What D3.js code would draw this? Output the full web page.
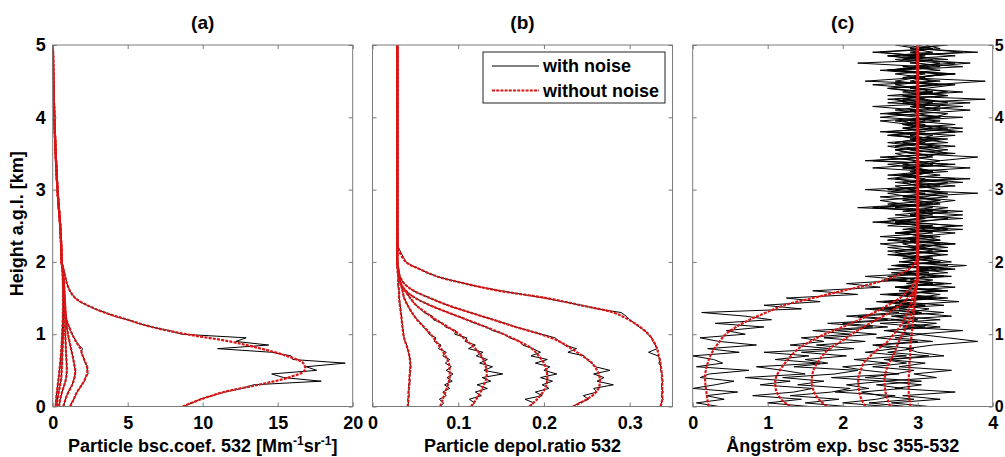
<!DOCTYPE html>
<html>
<head>
<meta charset="utf-8">
<script src="https://cdnjs.cloudflare.com/ajax/libs/d3/7.8.5/d3.min.js"></script>
<style>
  body { margin: 0; background: #fff; }
  text { font-family: "Liberation Sans", Arial, sans-serif; font-weight: bold; fill: #000; }
</style>
</head>
<body>
<div id="chart"></div>
<script>
// heights (km) of the smooth "without noise" profiles
var profileHeights = [0, 0.1, 0.2, 0.3, 0.4, 0.5, 0.6, 0.7, 0.8, 0.9, 1.0, 1.1, 1.2, 1.3, 1.4, 1.5, 1.6, 1.7, 1.8, 1.9, 2.0, 2.2, 2.5, 3, 3.5, 4, 4.5, 5];
// noisy profiles are sampled every 0.05 km starting at the ground
var noiseStep = 0.05;

// (a) particle backscatter coefficient 532
var bsc1 = [8.66, 9.9, 11.4, 13.7, 15.7, 16.8, 16.7, 15.6, 13.9, 11.8, 8.9, 6.6, 5.0, 3.45, 2.3, 1.5, 1.15, 0.95, 0.83, 0.72, 0.6, 0.57, 0.5, 0.32, 0.2, 0.11, 0.05, 0.01];
var bsc2 = [1.16, 1.4, 1.62, 1.95, 2.2, 2.32, 2.2, 2.0, 1.85, 1.55, 1.3, 1.1, 0.92, 0.85, 0.82, 0.8, 0.78, 0.75, 0.72, 0.68, 0.6, 0.57, 0.5, 0.32, 0.2, 0.11, 0.05, 0.01];
var bsc3 = [0.71, 0.85, 1.05, 1.3, 1.45, 1.5, 1.42, 1.33, 1.22, 1.12, 1.02, 0.95, 0.9, 0.86, 0.83, 0.8, 0.77, 0.74, 0.71, 0.67, 0.6, 0.57, 0.5, 0.32, 0.2, 0.11, 0.05, 0.01];
var bsc4 = [0.42, 0.5, 0.62, 0.78, 0.9, 0.94, 0.93, 0.9, 0.88, 0.86, 0.84, 0.83, 0.82, 0.8, 0.79, 0.77, 0.75, 0.73, 0.7, 0.66, 0.6, 0.57, 0.5, 0.32, 0.2, 0.11, 0.05, 0.01];
var bsc5 = [0.27, 0.32, 0.4, 0.5, 0.57, 0.6, 0.62, 0.64, 0.66, 0.68, 0.7, 0.71, 0.72, 0.72, 0.72, 0.72, 0.71, 0.7, 0.68, 0.65, 0.6, 0.57, 0.5, 0.32, 0.2, 0.11, 0.05, 0.01];
var bsc6 = [0.2, 0.23, 0.28, 0.34, 0.4, 0.45, 0.5, 0.54, 0.58, 0.61, 0.63, 0.65, 0.67, 0.68, 0.69, 0.69, 0.69, 0.68, 0.67, 0.64, 0.6, 0.57, 0.5, 0.32, 0.2, 0.11, 0.05, 0.01];

var bscNoisy1 = [8.7, 9.3, 9.8, 10.6, 11.5, 12.6, 13.4, 17.9, 15.4, 14.6, 17.6, 16.9, 19.5, 16.0, 15.9, 14.6, 11.0, 14.4, 12.2, 12.9,
  8.6, 7.8, 6.6, 5.7, 5.0, 4.1, 3.5, 2.8, 2.3, 1.8, 1.5, 1.3, 1.15, 1.05, 0.95, 0.9, 0.83, 0.78, 0.72, 0.66, 0.6];
var bscNoisy2 = [1.17, 1.26, 1.4, 1.52, 1.62, 1.8, 1.93, 2.12, 2.17, 2.36, 2.29, 2.34, 2.17, 2.11, 2.01, 1.9, 1.98, 1.74, 1.57, 1.43,
  1.3, 1.2, 1.1, 1.0, 0.93, 0.88, 0.86, 0.84, 0.83, 0.81, 0.8, 0.79, 0.78, 0.76, 0.75, 0.74, 0.72, 0.7, 0.68, 0.64, 0.6];
var bscNoisy3 = [0.72, 0.78, 0.86, 0.94, 1.05, 1.17, 1.3, 1.37, 1.46, 1.49, 1.52, 1.45, 1.43, 1.36, 1.33, 1.27, 1.22, 1.16, 1.12, 1.06,
  1.02, 0.98, 0.95, 0.92, 0.9, 0.88, 0.86, 0.84, 0.83, 0.81, 0.8, 0.78, 0.77, 0.75, 0.74, 0.72, 0.71, 0.69, 0.67, 0.64, 0.6];
var bscNoisy4 = [0.42, 0.47, 0.5, 0.57, 0.62, 0.71, 0.78, 0.85, 0.9, 0.92, 0.95, 0.93, 0.93, 0.91, 0.9, 0.89, 0.88, 0.87, 0.86, 0.85,
  0.84, 0.83, 0.83, 0.82, 0.82, 0.81, 0.8, 0.8, 0.79, 0.78, 0.77, 0.76, 0.75, 0.74, 0.73, 0.72, 0.7, 0.68, 0.66, 0.63, 0.6];
var bscNoisy5 = [0.27, 0.29, 0.32, 0.36, 0.4, 0.45, 0.5, 0.54, 0.57, 0.59, 0.6, 0.61, 0.62, 0.63, 0.64, 0.65, 0.66, 0.67, 0.68, 0.69,
  0.7, 0.7, 0.71, 0.71, 0.72, 0.72, 0.72, 0.72, 0.72, 0.72, 0.72, 0.71, 0.71, 0.7, 0.7, 0.69, 0.68, 0.66, 0.65, 0.63, 0.6];
var bscNoisy6 = [0.2, 0.21, 0.23, 0.25, 0.28, 0.31, 0.34, 0.37, 0.4, 0.43, 0.45, 0.48, 0.5, 0.52, 0.54, 0.56, 0.58, 0.6, 0.61, 0.62,
  0.63, 0.64, 0.65, 0.66, 0.67, 0.68, 0.68, 0.69, 0.69, 0.69, 0.69, 0.69, 0.69, 0.69, 0.68, 0.68, 0.67, 0.66, 0.64, 0.62, 0.6];

// (b) particle depolarization ratio 532
var dep1 = [0.336, 0.338, 0.338, 0.338, 0.338, 0.337, 0.336, 0.334, 0.332, 0.328, 0.322, 0.312, 0.299, 0.281, 0.243, 0.203, 0.148, 0.108, 0.075, 0.055, 0.039, 0.030, 0.029, 0.029, 0.029, 0.029, 0.029, 0.029];
var dep2 = [0.234, 0.25, 0.261, 0.265, 0.265, 0.262, 0.256, 0.245, 0.232, 0.218, 0.196, 0.167, 0.141, 0.114, 0.088, 0.067, 0.048, 0.037, 0.032, 0.030, 0.029, 0.029, 0.029, 0.029, 0.029, 0.029, 0.029, 0.029];
var dep3 = [0.183, 0.192, 0.199, 0.203, 0.204, 0.203, 0.2, 0.194, 0.186, 0.171, 0.153, 0.132, 0.11, 0.088, 0.067, 0.05, 0.039, 0.033, 0.031, 0.030, 0.029, 0.029, 0.029, 0.029, 0.029, 0.029, 0.029, 0.029];
var dep4 = [0.115, 0.121, 0.126, 0.13, 0.133, 0.133, 0.131, 0.127, 0.12, 0.111, 0.101, 0.088, 0.074, 0.062, 0.051, 0.044, 0.038, 0.033, 0.031, 0.030, 0.029, 0.029, 0.029, 0.029, 0.029, 0.029, 0.029, 0.029];
var dep5 = [0.079, 0.082, 0.085, 0.088, 0.09, 0.09, 0.089, 0.085, 0.08, 0.074, 0.068, 0.06, 0.052, 0.046, 0.041, 0.037, 0.035, 0.033, 0.031, 0.030, 0.029, 0.029, 0.029, 0.029, 0.029, 0.029, 0.029, 0.029];
var dep6 = [0.041, 0.042, 0.042, 0.043, 0.043, 0.044, 0.044, 0.043, 0.041, 0.038, 0.036, 0.035, 0.034, 0.033, 0.032, 0.031, 0.031, 0.030, 0.030, 0.029, 0.029, 0.029, 0.029, 0.029, 0.029, 0.029, 0.029, 0.029];

var depNoisy1 = [0.336, 0.337, 0.339, 0.337, 0.339, 0.338, 0.337, 0.339, 0.337, 0.338, 0.336, 0.337, 0.334, 0.336, 0.333, 0.322, 0.332, 0.33, 0.327, 0.326,
  0.321, 0.318, 0.311, 0.306, 0.3, 0.296, 0.29, 0.262, 0.244, 0.222, 0.2, 0.175, 0.15, 0.127, 0.108, 0.09, 0.075, 0.064, 0.055, 0.046, 0.039];
var depNoisy2 = [0.234, 0.241, 0.252, 0.246, 0.262, 0.258, 0.281, 0.262, 0.27, 0.258, 0.277, 0.26, 0.256, 0.25, 0.247, 0.228, 0.238, 0.224, 0.218, 0.213,
  0.197, 0.182, 0.167, 0.155, 0.141, 0.127, 0.114, 0.1, 0.088, 0.077, 0.067, 0.057, 0.048, 0.042, 0.037, 0.034, 0.032, 0.031, 0.030, 0.029, 0.029];
var depNoisy3 = [0.183, 0.188, 0.178, 0.198, 0.19, 0.206, 0.198, 0.21, 0.196, 0.215, 0.2, 0.207, 0.19, 0.204, 0.185, 0.196, 0.187, 0.175, 0.172, 0.16,
  0.154, 0.14, 0.133, 0.12, 0.11, 0.099, 0.088, 0.077, 0.067, 0.058, 0.05, 0.044, 0.039, 0.035, 0.033, 0.032, 0.031, 0.030, 0.030, 0.029, 0.029];
var depNoisy4 = [0.115, 0.119, 0.113, 0.127, 0.12, 0.134, 0.122, 0.138, 0.128, 0.152, 0.13, 0.14, 0.125, 0.134, 0.121, 0.129, 0.112, 0.12, 0.108, 0.11,
  0.096, 0.097, 0.085, 0.082, 0.071, 0.07, 0.06, 0.056, 0.051, 0.047, 0.044, 0.041, 0.038, 0.035, 0.033, 0.032, 0.031, 0.030, 0.030, 0.029, 0.029];
var depNoisy5 = [0.079, 0.083, 0.078, 0.086, 0.082, 0.09, 0.084, 0.093, 0.087, 0.094, 0.086, 0.092, 0.085, 0.09, 0.082, 0.086, 0.077, 0.08, 0.072, 0.074,
  0.066, 0.064, 0.059, 0.057, 0.052, 0.049, 0.046, 0.043, 0.041, 0.039, 0.037, 0.036, 0.035, 0.034, 0.033, 0.032, 0.031, 0.031, 0.030, 0.029, 0.029];
var depNoisy6 = [0.041, 0.042, 0.041, 0.043, 0.042, 0.043, 0.042, 0.044, 0.043, 0.044, 0.043, 0.045, 0.044, 0.044, 0.043, 0.042, 0.041, 0.04, 0.038, 0.037,
  0.036, 0.036, 0.035, 0.035, 0.034, 0.034, 0.033, 0.033, 0.032, 0.032, 0.031, 0.031, 0.031, 0.030, 0.030, 0.030, 0.030, 0.030, 0.029, 0.029, 0.029];

// (c) Angstrom exponent bsc 355-532
var ang1 = [0.21, 0.195, 0.183, 0.17, 0.165, 0.175, 0.2, 0.235, 0.29, 0.36, 0.44, 0.58, 0.76, 0.98, 1.22, 1.6, 2.0, 2.4, 2.7, 2.88, 2.97, 3.0, 3.0, 3.0, 3.0, 3.0, 3.0, 3.0];
var ang2 = [1.3, 1.18, 1.12, 1.1, 1.11, 1.16, 1.23, 1.31, 1.41, 1.57, 1.76, 2.0, 2.22, 2.42, 2.6, 2.76, 2.87, 2.95, 2.99, 3.0, 3.0, 3.0, 3.0, 3.0, 3.0, 3.0, 3.0, 3.0];
var ang3 = [1.79, 1.68, 1.62, 1.59, 1.59, 1.61, 1.66, 1.73, 1.82, 1.98, 2.12, 2.28, 2.45, 2.62, 2.76, 2.87, 2.95, 2.99, 3.0, 3.0, 3.0, 3.0, 3.0, 3.0, 3.0, 3.0, 3.0, 3.0];
var ang4 = [2.3, 2.25, 2.22, 2.21, 2.21, 2.24, 2.28, 2.37, 2.48, 2.6, 2.68, 2.76, 2.82, 2.86, 2.9, 2.93, 2.96, 2.99, 3.0, 3.0, 3.0, 3.0, 3.0, 3.0, 3.0, 3.0, 3.0, 3.0];
var ang5 = [2.63, 2.6, 2.57, 2.56, 2.56, 2.58, 2.62, 2.67, 2.71, 2.75, 2.8, 2.85, 2.89, 2.92, 2.94, 2.96, 2.97, 2.99, 3.0, 3.0, 3.0, 3.0, 3.0, 3.0, 3.0, 3.0, 3.0, 3.0];
var ang6 = [2.9, 2.89, 2.88, 2.88, 2.88, 2.89, 2.89, 2.9, 2.9, 2.91, 2.92, 2.93, 2.94, 2.95, 2.96, 2.97, 2.98, 2.99, 3.0, 3.0, 3.0, 3.0, 3.0, 3.0, 3.0, 3.0, 3.0, 3.0];

var angNoisy1 = [0.35, 0.05, 0.42, 0.18, 0.6, 0.0, 0.3, 0.55, 0.1, 0.22, 0.75, 0.05, 0.4, 0.28, 0.0, 0.62, 0.2, 0.85, 0.35, 0.1,
  0.7, 0.45, 0.95, 0.3, 1.05, 0.7, 0.12, 1.45, 0.95, 1.7, 1.25, 2.2, 1.6, 2.5, 2.05, 2.85, 2.3, 3.15, 2.6, 3.4, 2.75,
  3.2, 2.7, 3.4, 2.9, 2.5, 3.3, 3.1, 2.8, 3.6, 2.6, 3.0, 3.4, 2.7, 3.2, 2.4, 3.1, 3.5, 2.9, 2.6, 3.3,
  3.0, 2.8, 3.7, 2.6, 3.1, 2.9, 3.4, 2.3, 3.2, 3.0, 2.7, 3.5, 2.8, 3.3, 2.6, 3.0, 3.6, 2.9, 2.5, 3.2,
  3.4, 2.7, 3.1, 2.8, 3.9, 2.6, 3.2, 3.0, 2.4, 3.3, 2.9, 3.5, 2.7, 3.1, 2.2, 3.4, 2.8, 3.6, 3.0, 3.3];
var angNoisy2 = [1.55, 1.0, 1.45, 0.8, 1.35, 1.6, 0.9, 1.3, 0.7, 1.5, 1.2, 0.85, 1.7, 1.1, 1.55, 0.95, 1.85, 1.3, 1.75, 1.45,
  2.1, 1.6, 2.4, 1.8, 2.6, 2.05, 2.75, 2.3, 2.95, 2.45, 3.2, 2.5, 3.3, 2.7, 3.45, 2.6, 3.25, 2.8, 3.5, 2.7, 3.3,
  2.8, 3.3, 3.0, 2.6, 3.5, 2.9, 3.2, 2.7, 3.4, 3.1, 2.5, 3.0, 3.6, 2.8, 3.2, 2.6, 3.3, 2.9, 3.8, 2.7,
  3.1, 3.4, 2.6, 3.0, 3.2, 2.8, 3.5, 2.4, 3.1, 3.3, 2.9, 2.6, 3.4, 3.0, 2.7, 3.6, 3.1, 2.8, 3.3, 2.5,
  3.0, 3.7, 2.9, 3.2, 2.6, 3.4, 2.8, 3.1, 3.5, 2.3, 3.0, 3.3, 2.7, 3.6, 2.9, 3.2, 2.6, 3.8, 3.0, 2.7];
var angNoisy3 = [2.05, 1.5, 1.95, 1.3, 1.85, 2.1, 1.4, 1.75, 1.2, 1.9, 2.2, 1.35, 1.8, 1.5, 2.05, 1.45, 2.15, 1.65, 2.3, 1.75,
  2.45, 1.9, 2.6, 2.0, 2.75, 2.2, 3.0, 2.4, 3.1, 2.55, 3.25, 2.65, 3.4, 2.7, 3.2, 2.55, 3.35, 2.8, 3.15, 2.65, 3.45,
  3.1, 2.6, 3.4, 3.0, 2.8, 3.3, 2.5, 3.2, 2.9, 3.6, 2.7, 3.1, 2.9, 3.4, 2.2, 3.0, 3.3, 2.8, 3.1, 2.6,
  3.5, 3.0, 2.7, 3.3, 2.9, 3.7, 2.8, 3.0, 2.5, 3.4, 3.2, 2.7, 3.1, 2.9, 3.5, 2.6, 3.2, 3.0, 2.8, 3.6,
  2.5, 3.1, 3.3, 2.9, 2.7, 3.4, 3.0, 2.6, 3.2, 3.9, 2.8, 3.1, 2.5, 3.3, 3.0, 2.7, 3.5, 2.9, 3.2, 2.8];
var angNoisy4 = [2.6, 2.0, 2.45, 2.7, 1.9, 2.35, 2.05, 2.55, 1.85, 2.75, 2.3, 2.0, 2.6, 2.15, 2.85, 2.3, 2.7, 2.4, 3.0, 2.45,
  2.9, 2.6, 3.1, 2.5, 3.3, 2.7, 3.05, 2.55, 3.35, 2.75, 3.2, 2.6, 3.4, 2.8, 3.15, 2.65, 3.45, 2.85, 3.25, 2.7, 3.3,
  2.9, 3.4, 2.7, 3.1, 3.3, 2.6, 3.0, 3.5, 2.8, 3.2, 2.4, 3.1, 2.9, 3.6, 2.7, 3.3, 3.0, 2.5, 3.4, 2.9,
  3.1, 2.7, 3.5, 2.8, 3.2, 3.0, 2.6, 3.3, 3.8, 2.9, 2.7, 3.2, 3.0, 3.4, 2.6, 3.1, 2.8, 3.5, 2.9, 3.3,
  2.7, 3.0, 2.4, 3.4, 3.1, 2.8, 3.6, 2.9, 3.2, 2.7, 3.0, 3.4, 2.6, 3.1, 3.7, 2.8, 3.0, 2.5, 3.3, 3.1];
var angNoisy5 = [2.85, 2.35, 2.95, 2.5, 2.25, 2.8, 2.45, 3.05, 2.3, 2.7, 2.95, 2.4, 2.85, 2.55, 3.15, 2.6, 2.95, 2.45, 3.2, 2.7,
  3.05, 2.55, 3.3, 2.8, 3.0, 2.65, 3.35, 2.75, 3.1, 2.6, 3.4, 2.85, 3.2, 2.7, 3.35, 2.9, 3.1, 2.65, 3.45, 2.8, 3.2,
  3.0, 2.7, 3.2, 2.9, 3.5, 2.6, 3.1, 2.8, 3.3, 3.0, 2.7, 3.6, 2.9, 3.1, 2.5, 3.2, 2.8, 3.4, 3.0, 2.3,
  3.3, 2.9, 3.1, 2.7, 3.4, 2.8, 3.2, 3.0, 2.6, 3.5, 2.9, 3.3, 2.7, 3.0, 3.2, 2.5, 3.4, 2.8, 3.1, 3.0,
  2.6, 3.3, 2.9, 3.7, 2.8, 3.0, 3.2, 2.6, 3.4, 2.9, 3.1, 2.7, 3.3, 2.8, 3.5, 3.0, 2.6, 3.2, 2.9, 3.4];
var angNoisy6 = [3.15, 2.65, 3.3, 2.8, 3.5, 2.7, 3.05, 2.55, 3.25, 2.95, 3.45, 2.75, 3.1, 2.6, 3.35, 3.0, 2.85, 3.2, 3.8, 3.4,
  3.0, 3.6, 2.8, 3.25, 2.65, 3.45, 2.9, 3.15, 2.7, 3.55, 2.95, 3.3, 2.75, 3.5, 2.85, 3.2, 2.6, 3.4, 3.0, 3.65, 2.8,
  3.2, 2.9, 2.6, 3.4, 3.0, 2.8, 3.3, 2.7, 3.1, 3.5, 2.9, 2.6, 3.2, 3.0, 3.4, 2.8, 2.5, 3.1, 3.3, 2.9,
  2.7, 3.6, 3.0, 2.8, 3.2, 2.4, 3.1, 3.3, 2.9, 2.7, 3.4, 3.0, 2.6, 3.2, 2.9, 3.5, 2.8, 3.1, 2.7, 3.3,
  3.0, 2.9, 3.6, 2.6, 3.1, 2.8, 3.4, 3.0, 2.7, 3.2, 2.9, 3.5, 2.6, 3.0, 3.3, 2.8, 3.1, 2.4, 3.2, 3.0];

var heightTicks = [0, 1, 2, 3, 4, 5];
var legendLabels = ["with noise", "without noise"];

var panels = [
  { title: "(a)", left: 52.7, domain: [0, 20], ticks: [0, 5, 10, 15, 20],
    smooth: [bsc1, bsc2, bsc3, bsc4, bsc5, bsc6],
    noisy: [bscNoisy1, bscNoisy2, bscNoisy3, bscNoisy4, bscNoisy5, bscNoisy6],
    yLabels: "left", label: "bsc" },
  { title: "(b)", left: 372.5, domain: [0, 0.35], ticks: [0, 0.1, 0.2, 0.3],
    smooth: [dep1, dep2, dep3, dep4, dep5, dep6],
    noisy: [depNoisy1, depNoisy2, depNoisy3, depNoisy4, depNoisy5, depNoisy6],
    yLabels: "none", label: "Particle depol.ratio 532", legend: true },
  { title: "(c)", left: 692.7, domain: [0, 4], ticks: [0, 1, 2, 3, 4],
    smooth: [ang1, ang2, ang3, ang4, ang5, ang6],
    noisy: [angNoisy1, angNoisy2, angNoisy3, angNoisy4, angNoisy5, angNoisy6],
    yLabels: "right", label: "\u00c5ngstr\u00f6m exp. bsc 355-532" }
];

var width = 1005, height = 457;
var plotTop = 45, plotH = 361.5, plotW = 300;
var axisColor = "#7a7a7a";
var redColor = "#dc1414";

var svg = d3.select("#chart").append("svg")
  .attr("width", width)
  .attr("height", height);

var y = d3.scaleLinear().domain([0, 5]).range([plotH, 0]);

function numFmt(d) {
  return d === 0 ? "0" : String(d);
}

panels.forEach(function(p, pi) {
  var x = d3.scaleLinear().domain(p.domain).range([0, plotW]);
  var g = svg.append("g").attr("transform", "translate(" + p.left + "," + plotTop + ")");

  g.append("clipPath").attr("id", "clip" + pi)
    .append("rect").attr("width", plotW).attr("height", plotH);

  var line = d3.line()
    .x(function(d) { return x(d.v); })
    .y(function(d) { return y(d.h); });

  var plot = g.append("g").attr("clip-path", "url(#clip" + pi + ")");

  // noisy profiles: typed samples, then the smooth values above them
  p.noisy.forEach(function(arr, k) {
    var pts = arr.map(function(v, i) { return { h: i * noiseStep, v: v }; });
    var hMax = (arr.length - 1) * noiseStep;
    profileHeights.forEach(function(h, i) {
      if (h > hMax + 1e-9) pts.push({ h: h, v: p.smooth[k][i] });
    });
    plot.append("path")
      .attr("d", line(pts))
      .attr("fill", "none")
      .attr("stroke", "#000")
      .attr("stroke-width", 1)
      .attr("stroke-linejoin", "round");
  });

  var smoothLine = d3.line()
    .x(function(d) { return x(d.v); })
    .y(function(d) { return y(d.h); })
    .curve(d3.curveCatmullRom.alpha(0.5));

  p.smooth.forEach(function(arr) {
    var pts = arr.map(function(v, i) { return { h: profileHeights[i], v: v }; });
    plot.append("path")
      .attr("d", smoothLine(pts))
      .attr("fill", "none")
      .attr("stroke", redColor)
      .attr("stroke-width", 2.2)
      .attr("stroke-dasharray", "3,1.2");
  });

  // axes with inward ticks on all four sides
  var bottom = g.append("g").attr("transform", "translate(0," + plotH + ")")
    .call(d3.axisBottom(x).tickValues(p.ticks).tickFormat(numFmt)
      .tickSizeInner(-4).tickSizeOuter(0).tickPadding(10));
  var topAx = g.append("g")
    .call(d3.axisTop(x).tickValues(p.ticks).tickFormat("")
      .tickSizeInner(-4).tickSizeOuter(0));
  var leftAx = g.append("g")
    .call(d3.axisLeft(y).tickValues(heightTicks)
      .tickFormat(p.yLabels === "left" ? d3.format("d") : "")
      .tickSizeInner(-4).tickSizeOuter(0).tickPadding(7));
  var rightAx = g.append("g").attr("transform", "translate(" + plotW + ",0)")
    .call(d3.axisRight(y).tickValues(heightTicks)
      .tickFormat(p.yLabels === "right" ? d3.format("d") : "")
      .tickSizeInner(-4).tickSizeOuter(0).tickPadding(2));

  [bottom, topAx, leftAx, rightAx].forEach(function(a) {
    a.select(".domain").remove();
    a.selectAll(".tick line").attr("stroke", axisColor);
    a.selectAll(".tick text")
      .attr("font-size", 18)
      .attr("font-family", "Liberation Sans, Arial, sans-serif")
      .attr("font-weight", "bold")
      .attr("fill", "#000");
  });
  // right-hand height labels sit at the very edge of the page
  rightAx.selectAll(".tick text").attr("font-size", 16);

  g.append("rect")
    .attr("width", plotW).attr("height", plotH)
    .attr("fill", "none")
    .attr("stroke", axisColor)
    .attr("stroke-width", 1);

  g.append("text")
    .attr("x", plotW / 2).attr("y", -16)
    .attr("text-anchor", "middle")
    .attr("font-size", 19)
    .text(p.title);

  var xl = g.append("text")
    .attr("x", plotW / 2).attr("y", plotH + 45)
    .attr("text-anchor", "middle")
    .attr("font-size", 18);
  if (p.label === "bsc") {
    xl.append("tspan").text("Particle bsc.coef. 532 [Mm");
    xl.append("tspan").attr("font-size", 12).attr("dy", -7).text("-1");
    xl.append("tspan").attr("dy", 7).text("sr");
    xl.append("tspan").attr("font-size", 12).attr("dy", -7).text("-1");
    xl.append("tspan").attr("dy", 7).text("]");
  } else {
    xl.text(p.label);
  }

  if (p.yLabels === "left") {
    g.append("text")
      .attr("transform", "translate(-30," + (plotH / 2 - 2) + ") rotate(-90)")
      .attr("text-anchor", "middle")
      .attr("font-size", 18)
      .text("Height a.g.l. [km]");
  }

  if (p.legend) {
    var lg = g.append("g").attr("transform", "translate(" + (483 - p.left) + "," + (52 - plotTop) + ")");
    lg.append("rect")
      .attr("width", 182).attr("height", 51)
      .attr("fill", "#fff")
      .attr("stroke", "#222")
      .attr("stroke-width", 1);
    legendLabels.forEach(function(lab, i) {
      var ly = 14 + i * 24.5;
      lg.append("line")
        .attr("x1", 9).attr("x2", 56)
        .attr("y1", ly).attr("y2", ly)
        .attr("stroke", i === 0 ? "#000" : redColor)
        .attr("stroke-width", i === 0 ? 1.2 : 2.2)
        .attr("stroke-dasharray", i === 0 ? null : "3,1.2");
      lg.append("text")
        .attr("x", 60).attr("y", ly + 6)
        .attr("font-size", 18)
        .text(lab);
    });
  }
});
</script>
</body>
</html>
